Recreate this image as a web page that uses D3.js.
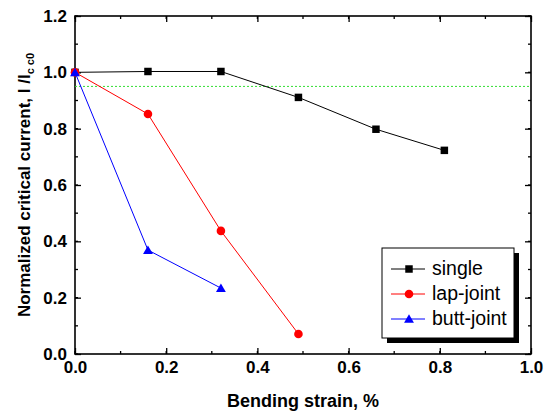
<!DOCTYPE html>
<html>
<head>
<meta charset="utf-8">
<script src="https://cdn.jsdelivr.net/npm/d3@7"></script>
<style>
  body { margin: 0; background: #fff; }
  svg { display: block; font-family: Arial, "Liberation Sans", sans-serif; }
  .tick text { font-weight: bold; font-size: 17px; }
</style>
</head>
<body>
<svg id="chart" width="549" height="412"></svg>
<script>
// data
const strainSingle = [0, 0.16, 0.32, 0.49, 0.66, 0.81];
const currentSingle = [1.0, 1.003, 1.003, 0.911, 0.798, 0.723];
const strainLap = [0, 0.16, 0.32, 0.49];
const currentLap = [1.0, 0.852, 0.437, 0.071];
const strainButt = [0, 0.16, 0.32];
const currentButt = [1.0, 0.369, 0.234];
const thresholdLevel = 0.95;
const seriesNames = ['single', 'lap-joint', 'butt-joint'];
const xTicks = [0, 0.2, 0.4, 0.6, 0.8, 1.0];
const yTicks = [0, 0.2, 0.4, 0.6, 0.8, 1.0, 1.2];

const series = [
  { name: seriesNames[0], xs: strainSingle, ys: currentSingle, color: '#000', shape: d3.symbolSquare, size: 56 },
  { name: seriesNames[1], xs: strainLap, ys: currentLap, color: '#ff0000', shape: d3.symbolCircle, size: 58 },
  { name: seriesNames[2], xs: strainButt, ys: currentButt, color: '#0000ff', shape: d3.symbolTriangle, size: 42 }
];

const margin = { left: 75, right: 18, top: 16, bottom: 58 };
const svg = d3.select('#chart');
const width = +svg.attr('width') - margin.left - margin.right;
const height = +svg.attr('height') - margin.top - margin.bottom;

const x = d3.scaleLinear().domain([0, 1.0]).range([margin.left, margin.left + width]);
const y = d3.scaleLinear().domain([0, 1.2]).range([margin.top + height, margin.top]);

const minorX = d3.range(0, 1.0001, 0.1);
const minorY = d3.range(0, 1.2001, 0.1);

// minor ticks (all four sides, pointing inward)
const g = svg.append('g');
const tickStyle = sel => sel.attr('stroke', '#000').attr('stroke-width', 1.3);
g.selectAll('.mxb').data(minorX).enter().append('line')
  .attr('x1', d => x(d)).attr('x2', d => x(d))
  .attr('y1', y(0)).attr('y2', y(0) - 3).call(tickStyle);
g.selectAll('.mxt').data(minorX).enter().append('line')
  .attr('x1', d => x(d)).attr('x2', d => x(d))
  .attr('y1', y(1.2)).attr('y2', y(1.2) + 3).call(tickStyle);
g.selectAll('.myl').data(minorY).enter().append('line')
  .attr('y1', d => y(d)).attr('y2', d => y(d))
  .attr('x1', x(0)).attr('x2', x(0) + 3).call(tickStyle);
g.selectAll('.myr').data(minorY).enter().append('line')
  .attr('y1', d => y(d)).attr('y2', d => y(d))
  .attr('x1', x(1)).attr('x2', x(1) - 3).call(tickStyle);

// major axes
const fmt = d3.format('.1f');
const styleAxis = sel => {
  sel.select('.domain').remove();
  sel.selectAll('.tick line').attr('stroke', '#000').attr('stroke-width', 1.3);
};
svg.append('g').attr('transform', `translate(0,${y(0)})`)
  .call(d3.axisBottom(x).tickValues(xTicks).tickFormat(fmt).tickSizeInner(-6).tickPadding(7))
  .call(styleAxis)
  .selectAll('text').attr('fill', '#000');
svg.append('g').attr('transform', `translate(${x(0)},0)`)
  .call(d3.axisLeft(y).tickValues(yTicks).tickFormat(fmt).tickSizeInner(-6).tickPadding(8))
  .call(styleAxis)
  .selectAll('text').attr('fill', '#000');
svg.append('g').attr('transform', `translate(0,${y(1.2)})`)
  .call(d3.axisTop(x).tickValues(xTicks).tickFormat('').tickSizeInner(-6))
  .call(styleAxis);
svg.append('g').attr('transform', `translate(${x(1)},0)`)
  .call(d3.axisRight(y).tickValues(yTicks).tickFormat('').tickSizeInner(-6))
  .call(styleAxis);

// frame
svg.append('rect')
  .attr('x', x(0)).attr('y', y(1.2))
  .attr('width', x(1) - x(0)).attr('height', y(0) - y(1.2))
  .attr('fill', 'none').attr('stroke', '#000').attr('stroke-width', 1.6);

// 95% reference line
svg.append('line')
  .attr('x1', x(0)).attr('x2', x(1))
  .attr('y1', y(thresholdLevel)).attr('y2', y(thresholdLevel))
  .attr('stroke', '#33dd33').attr('stroke-width', 1).attr('stroke-dasharray', '2,2');

// series
const line = d3.line().x(d => x(d[0])).y(d => y(d[1]));
series.forEach(s => {
  const pts = s.xs.map((v, i) => [v, s.ys[i]]);
  svg.append('path').datum(pts)
    .attr('d', line).attr('fill', 'none')
    .attr('stroke', s.color).attr('stroke-width', 1);
  svg.append('g').selectAll('path').data(pts).enter().append('path')
    .attr('transform', d => `translate(${x(d[0])},${y(d[1]) + (s.shape === d3.symbolTriangle ? 1 : 0)})`)
    .attr('d', d3.symbol().type(s.shape).size(s.size))
    .attr('fill', s.color);
});

// legend
const lg = svg.append('g').attr('transform', 'translate(382,248)');
lg.append('rect').attr('x', 5).attr('y', 5).attr('width', 132).attr('height', 90).attr('fill', '#000');
lg.append('rect').attr('x', 0).attr('y', 0).attr('width', 132).attr('height', 90)
  .attr('fill', '#fff').attr('stroke', '#000').attr('stroke-width', 1);
series.forEach((s, i) => {
  const ry = 21 + i * 25;
  lg.append('line').attr('x1', 9).attr('x2', 43).attr('y1', ry).attr('y2', ry)
    .attr('stroke', s.color).attr('stroke-width', 1);
  lg.append('path').attr('transform', `translate(27,${ry + (s.shape === d3.symbolTriangle ? 1 : 0)})`)
    .attr('d', d3.symbol().type(s.shape).size(s.size)).attr('fill', s.color);
  lg.append('text').attr('x', 50).attr('y', ry + 6)
    .attr('font-size', 19.5).text(s.name);
});

// axis titles
svg.append('text')
  .attr('x', (x(0) + x(1)) / 2).attr('y', 407)
  .attr('text-anchor', 'middle').attr('font-weight', 'bold').attr('font-size', 18)
  .text('Bending strain, %');
const yt = svg.append('text')
  .attr('transform', `translate(30,${(y(0) + y(1.2)) / 2}) rotate(-90)`)
  .attr('text-anchor', 'middle').attr('font-weight', 'bold').attr('font-size', 17);
yt.append('tspan').text('Normalized critical current, I /I');
yt.append('tspan').attr('font-size', 11).attr('dy', 4).text('c');
yt.append('tspan').attr('font-size', 11).attr('dx', 3).text('c0');
</script>
</body>
</html>
